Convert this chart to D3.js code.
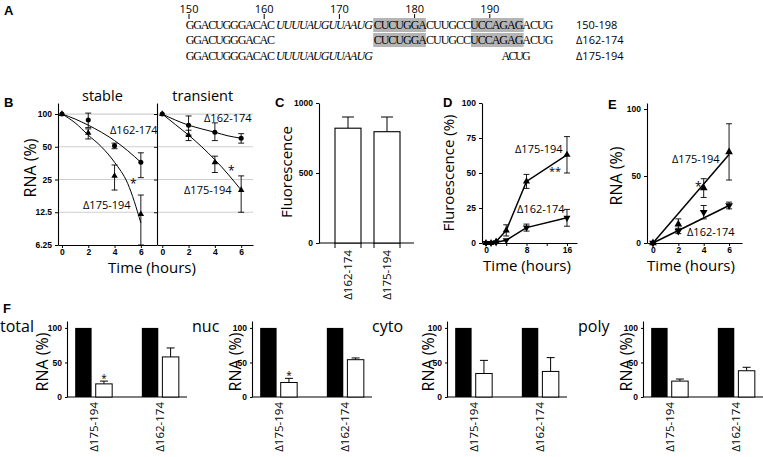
<!DOCTYPE html>
<html>
<head>
<meta charset="utf-8">
<script src="https://cdn.jsdelivr.net/npm/d3@7"></script>
<style>
body { margin: 0; background: #fff; }
svg { font-family: "Open Sans", "Noto Sans", sans-serif; }
.tick text { font-weight: 700; font-size: 8.5px; }
</style>
</head>
<body>
<div id="chart-container"></div>
<script>
// ---------- data ----------
// A: sequence
const seqFirst = 150;
const seqFull = "GGACUGGGACACUUUUAUGUUAAUGCUCUGGACUUGCCUCCAGAGACUG";
const rulerTicks = [150, 160, 170, 180, 190];
const rowLabels = ["150-198", "\u0394162-174", "\u0394175-194"];
const rowDeleted = [null, [162, 174], [175, 194]];
const italicRange = [162, 174];
const boxRanges = [[175, 181], [188, 194]];

// B: RNA decay (log scale)
const timeB = [0, 2, 4, 6];
const timeFit = [0, 1, 2, 3, 4, 5, 6];
const stable162 = [100, 88, 51, 36];
const stable162Hi = [100, 102, 54, 44];
const stable162Lo = [100, 75, 48, 26];
const stable175 = [100, 67, 27, 12];
const stable175Hi = [100, 73, 34, 18];
const stable175Lo = [100, 59, 20, 6.2];
const stable162Fit = [100, 90, 79, 68, 57, 46, 36];
const stable175Fit = [100, 83, 64, 50, 36, 23, 10];
const trans162 = [100, 79, 68, 60];
const trans162Hi = [100, 96, 83, 66];
const trans162Lo = [100, 64, 57, 54];
const trans175 = [100, 64, 36, 20];
const trans175Hi = [100, 71, 41, 27];
const trans175Lo = [100, 57, 29, 12.5];
const trans162Fit = [100, 88, 79, 73, 68, 63, 60];
const trans175Fit = [100, 80, 64, 50, 38, 28, 20];
const logTicks = [100, 50, 25, 12.5, 6.25];

// C: fluorescence
const catsC = ["\u0394162-174", "\u0394175-194"];
const fluorC = [820, 795];
const fluorCErr = [80, 105];

// D: fluorescence time course
const timeD = [0, 1, 2, 4, 8, 16];
const fluor175 = [0, 0, 1, 9, 44, 63];
const fluor175Err = [0, 0, 0.5, 4, 5, 13];
const fluor162 = [0, 0, 0.5, 2, 11, 18];
const fluor162Err = [0, 0, 0.5, 1, 2.5, 6];

// E: RNA time course
const timeE = [0, 2, 4, 6];
const rna175 = [0, 14, 41, 68];
const rna175Err = [0, 4, 7, 21];
const rna162 = [0, 9, 23, 28];
const rna162Err = [0, 2, 5, 2.5];
const timeEFit = [0, 6];
const rna175Fit = [0, 66];
const rna162Fit = [0, 28];

// F: fractions
const fractions = ["total", "nuc", "cyto", "poly"];
const catsF = ["\u0394175-194", "\u0394162-174"];
const controlF = [100, 100];
const mutTotal = [19, 58], mutTotalErr = [4, 13];
const mutNuc = [21, 54], mutNucErr = [6, 2.5];
const mutCyto = [34, 37], mutCytoErr = [19, 20];
const mutPoly = [23, 38], mutPolyErr = [3, 5];
const starsF = [[true, false], [true, false], [false, false], [false, false]];

// ---------- helpers ----------
const W = 763, H = 457;
const svg = d3.select("#chart-container").append("svg")
    .attr("width", W).attr("height", H);

function panelLetter(txt, x, y) {
    svg.append("text").attr("x", x).attr("y", y)
        .style("font-family", "'Liberation Sans', Arial, sans-serif")
        .style("font-weight", "bold").style("font-size", "13px").text(txt);
}

function vLabel(txt, x, y, size) {
    svg.append("text")
        .attr("transform", "translate(" + x + "," + y + ") rotate(-90)")
        .style("text-anchor", "middle").style("font-size", (size || 15) + "px")
        .text(txt);
}

function label(txt, x, y, size, anchor) {
    return svg.append("text").attr("x", x).attr("y", y)
        .style("font-size", (size || 11) + "px")
        .style("text-anchor", anchor || "start").text(txt);
}

function errBar(g, x, y1, y2, cap) {
    g.append("line").attr("x1", x).attr("x2", x).attr("y1", y1).attr("y2", y2)
        .attr("stroke", "#000").attr("stroke-width", 0.9);
    [y1, y2].forEach(y => g.append("line")
        .attr("x1", x - cap).attr("x2", x + cap).attr("y1", y).attr("y2", y)
        .attr("stroke", "#000").attr("stroke-width", 0.9));
}

function marker(g, type, x, y, size) {
    let sym = type === "circle" ? d3.symbolCircle : d3.symbolTriangle;
    g.append("path")
        .attr("d", d3.symbol().type(sym).size(size || 22)())
        .attr("transform", "translate(" + x + "," + y + ")" + (type === "down" ? " rotate(180)" : ""))
        .attr("fill", "#000");
}

function styleAxis(g) {
    g.selectAll(".domain").attr("stroke", "#000").attr("stroke-width", 1.1);
    g.selectAll(".tick line").attr("stroke", "#000");
    return g;
}

// ---------- panel A ----------
(function () {
    panelLetter("A", 4, 15);
    let x = d3.scaleLinear().domain([150, 190]).range([189, 489.8]);
    let half = (x(151) - x(150)) / 2;
    let rowY = [29, 44, 60];
    let tailShift = [0, 0, -3];
    let g = svg.append("g");
    rulerTicks.forEach(t => {
        g.append("text").attr("x", x(t)).attr("y", 13)
            .style("text-anchor", "middle").style("font-size", "11px").text(t);
        g.append("line").attr("x1", x(t)).attr("x2", x(t)).attr("y1", 14).attr("y2", 19)
            .attr("stroke", "#000").attr("stroke-width", 1);
    });
    // grey boxes on rows 1 and 2
    [0, 1].forEach(r => {
        boxRanges.forEach(b => {
            g.append("rect").attr("x", x(b[0]) - half).attr("y", rowY[r] - 11)
                .attr("width", x(b[1]) - x(b[0]) + 2 * half).attr("height", 14)
                .attr("fill", "#b4b4b4");
        });
    });
    rowLabels.forEach((lab, r) => {
        let del = rowDeleted[r];
        // split the row into runs of contiguous, same-style nucleotides
        let runs = [];
        for (let i = 0; i < seqFull.length; i++) {
            let pos = seqFirst + i;
            if (del && pos >= del[0] && pos <= del[1]) continue;
            let it = pos >= italicRange[0] && pos <= italicRange[1];
            let last = runs[runs.length - 1];
            if (last && last.it === it && last.end === pos - 1) {
                last.end = pos; last.txt += seqFull[i];
            } else {
                runs.push({start: pos, end: pos, it: it, txt: seqFull[i]});
            }
        }
        runs.forEach(run => {
            let shift = (del && run.start > del[1]) ? tailShift[r] : 0;
            let x0 = x(run.start + shift) - half;
            let x1 = x(run.end + shift) + half;
            g.append("text").attr("x", x0 + 0.4).attr("y", rowY[r])
                .attr("textLength", x1 - x0 - 0.8).attr("lengthAdjust", "spacing")
                .style("font-family", "'Liberation Serif', 'DejaVu Serif', serif")
                .style("font-size", "12px")
                .style("font-style", run.it ? "italic" : "normal")
                .text(run.txt);
        });
        g.append("text").attr("x", 576).attr("y", rowY[r])
            .style("font-size", "11px").text(lab);
    });
})();

// ---------- panel B ----------
(function () {
    panelLetter("B", 4, 107);
    let y = d3.scaleLog().base(2).domain([6.25, 126.3]).range([245, 103]);
    let subs = [
        {title: "stable", range: [58, 154], domain: [-0.3, 7], s162: stable162, h162: stable162Hi, l162: stable162Lo,
         s175: stable175, h175: stable175Hi, l175: stable175Lo, f162: stable162Fit, f175: stable175Fit, labels: true},
        {title: "transient", range: [157, 253], domain: [-0.4, 6.9], s162: trans162, h162: trans162Hi, l162: trans162Lo,
         s175: trans175, h175: trans175Hi, l175: trans175Lo, f162: trans162Fit, f175: trans175Fit, labels: false}
    ];
    subs.forEach(s => {
        let x = d3.scaleLinear().domain(s.domain).range(s.range);
        let g = svg.append("g");
        // gridlines
        logTicks.slice(0, 4).forEach(v => {
            g.append("line").attr("x1", s.range[0]).attr("x2", s.range[1])
                .attr("y1", y(v)).attr("y2", y(v)).attr("stroke", "#cfcfcf").attr("stroke-width", 1.2);
        });
        let ax = g.append("g").attr("transform", "translate(" + s.range[0] + ",0)")
            .call(d3.axisLeft(y).tickValues(logTicks).tickSize(3).tickSizeOuter(0)
                .tickFormat(s.labels ? (d => d) : ""));
        styleAxis(ax);
        let bx = g.append("g").attr("transform", "translate(0," + y.range()[0] + ")")
            .call(d3.axisBottom(x).tickValues(timeB).tickSize(3).tickSizeOuter(0));
        styleAxis(bx);
        bx.selectAll(".tick text").attr("y", 4);
        g.append("text").attr("x", (x(0) + x(6)) / 2 + 1).attr("y", 101)
            .style("text-anchor", "middle").style("font-size", "14.5px").text(s.title);
        // fit curves
        let line = d3.line().x((d, i) => x(timeFit[i])).y(d => y(d)).curve(d3.curveMonotoneX);
        [s.f162, s.f175].forEach(f => g.append("path").attr("d", line(f))
            .attr("fill", "none").attr("stroke", "#000").attr("stroke-width", 1));
        timeB.forEach((t, i) => {
            if (i > 0) {
                errBar(g, x(t), y(Math.max(s.l162[i], 6.25)), y(s.h162[i]), 3);
                errBar(g, x(t), y(Math.max(s.l175[i], 6.25)), y(s.h175[i]), 3);
            }
            marker(g, "circle", x(t), y(s.s162[i]), 20);
            marker(g, "up", x(t), y(s.s175[i]), 18);
        });
    });
    label("\u0394162-174", 110, 134, 11);
    label("\u0394175-194", 83, 209, 11);
    label("*", 130, 188, 12);
    label("\u0394162-174", 204, 122, 11);
    label("\u0394175-194", 184, 194, 11);
    label("*", 228, 175, 12);
    vLabel("RNA (%)", 36, 168, 16);
    label("Time (hours)", 152, 273, 15, "middle");
})();

// ---------- panel C ----------
(function () {
    panelLetter("C", 275, 107);
    let y = d3.scaleLinear().domain([0, 1000]).range([243, 103]);
    let x = d3.scaleBand().domain(catsC).range([322, 413]).paddingInner(1 / 3).paddingOuter(1 / 3);
    let g = svg.append("g");
    styleAxis(g.append("g").attr("transform", "translate(319,0)")
        .call(d3.axisLeft(y).tickValues([0, 500, 1000]).tickSize(3).tickSizeOuter(0)
            .tickFormat(d3.format("d"))));
    g.append("line").attr("x1", 319).attr("x2", 414).attr("y1", 243).attr("y2", 243)
        .attr("stroke", "#000").attr("stroke-width", 1.1);
    catsC.forEach((c, i) => {
        let x0 = x(c), bw = x.bandwidth();
        let top = y(fluorC[i] + fluorCErr[i]);
        g.append("line").attr("x1", x0 + bw / 2).attr("x2", x0 + bw / 2)
            .attr("y1", y(fluorC[i])).attr("y2", top).attr("stroke", "#000");
        g.append("line").attr("x1", x0 + bw / 2 - 6).attr("x2", x0 + bw / 2 + 6)
            .attr("y1", top).attr("y2", top).attr("stroke", "#000");
        g.append("rect").attr("x", x0).attr("y", y(fluorC[i]))
            .attr("width", bw).attr("height", y(0) - y(fluorC[i]))
            .attr("fill", "#fff").attr("stroke", "#000").attr("stroke-width", 1.1);
        [x0, x0 + bw].forEach(xx => g.append("line").attr("x1", xx).attr("x2", xx)
            .attr("y1", 243).attr("y2", 248).attr("stroke", "#000"));
        g.append("text")
            .attr("transform", "translate(" + (x0 + bw / 2 + 4) + ",250) rotate(-90)")
            .style("text-anchor", "end").style("font-size", "11.5px").text(c);
    });
    vLabel("Fluorescence", 292, 172, 15);
})();

// ---------- panel D ----------
(function () {
    panelLetter("D", 443, 107);
    let y = d3.scaleLinear().domain([0, 100]).range([243, 103]);
    let x = d3.scaleLinear().domain([-0.79, 17.98]).range([482, 577]);
    let g = svg.append("g");
    styleAxis(g.append("g").attr("transform", "translate(482,0)")
        .call(d3.axisLeft(y).tickValues([0, 25, 50, 75, 100]).tickSize(3).tickSizeOuter(0)));
    let bx = styleAxis(g.append("g").attr("transform", "translate(0,243)")
        .call(d3.axisBottom(x).tickValues([0, 4, 8, 12, 16]).tickSize(3).tickSizeOuter(0)
            .tickFormat(d => (d % 8 === 0 ? d : ""))));
    bx.selectAll(".tick text").attr("y", 4);
    let line = d3.line().x((d, i) => x(timeD[i])).y(d => y(d));
    [fluor175, fluor162].forEach(s => g.append("path").attr("d", line(s))
        .attr("fill", "none").attr("stroke", "#000").attr("stroke-width", 1.5));
    timeD.forEach((t, i) => {
        if (fluor175Err[i] > 1) errBar(g, x(t), y(fluor175[i] - fluor175Err[i]), y(fluor175[i] + fluor175Err[i]), 3);
        if (fluor162Err[i] > 1) errBar(g, x(t), y(fluor162[i] - fluor162Err[i]), y(fluor162[i] + fluor162Err[i]), 3);
        marker(g, "up", x(t), y(fluor175[i]), 22);
        marker(g, "down", x(t), y(fluor162[i]), 22);
    });
    label("\u0394175-194", 515, 153, 11);
    label("**", 549, 175, 11);
    label("\u0394162-174", 517, 213, 11);
    vLabel("Fluroescence (%)", 454, 173, 15);
    label("Time (hours)", 527, 271, 15, "middle");
})();

// ---------- panel E ----------
(function () {
    panelLetter("E", 608, 109);
    let y = d3.scaleLinear().domain([0, 104.5]).range([243, 103]);
    let x = d3.scaleLinear().domain([-0.47, 7.02]).range([647, 742]);
    let g = svg.append("g");
    styleAxis(g.append("g").attr("transform", "translate(647,0)")
        .call(d3.axisLeft(y).tickValues([0, 50, 100]).tickSize(3).tickSizeOuter(0)));
    let bx = styleAxis(g.append("g").attr("transform", "translate(0,243)")
        .call(d3.axisBottom(x).tickValues(timeE).tickSize(3).tickSizeOuter(0)));
    bx.selectAll(".tick text").attr("y", 4);
    let line = d3.line().x((d, i) => x(timeEFit[i])).y(d => y(d));
    [rna175Fit, rna162Fit].forEach(s => g.append("path").attr("d", line(s))
        .attr("fill", "none").attr("stroke", "#000").attr("stroke-width", 1.5));
    timeE.forEach((t, i) => {
        if (rna175Err[i] > 0) errBar(g, x(t), y(rna175[i] - rna175Err[i]), y(rna175[i] + rna175Err[i]), 3);
        if (rna162Err[i] > 0) errBar(g, x(t), y(rna162[i] - rna162Err[i]), y(rna162[i] + rna162Err[i]), 3);
        marker(g, "up", x(t), y(rna175[i]), 26);
        marker(g, "down", x(t), y(rna162[i]), 26);
    });
    label("\u0394175-194", 672, 163, 11);
    label("*", 695, 191, 12);
    label("\u0394162-174", 687, 236, 11);
    vLabel("RNA (%)", 622, 176, 16);
    label("Time (hours)", 691, 271, 15, "middle");
})();

// ---------- panel F ----------
(function () {
    panelLetter("F", 3, 313);
    let y = d3.scaleLinear().domain([0, 110]).range([397, 321]);
    let axisX = [67, 252, 447, 643];
    let titleX = [0, 192, 372, 578];
    let labelOff = [19, 11, 13, 11];
    let mut = [mutTotal, mutNuc, mutCyto, mutPoly];
    let mutErr = [mutTotalErr, mutNucErr, mutCytoErr, mutPolyErr];
    fractions.forEach((f, k) => {
        let g = svg.append("g").attr("transform", "translate(" + axisX[k] + ",0)");
        let xg = d3.scalePoint().domain(catsF).range([0, 120]).padding(0.4);
        let xi = d3.scaleBand().domain(["ctrl", "mut"]).range([-18.5, 18.5]).paddingInner(0.2);
        styleAxis(g.append("g").call(d3.axisLeft(y).tickValues([0, 50, 100]).tickSize(2).tickSizeOuter(0)));
        g.append("line").attr("x1", 0).attr("x2", 120).attr("y1", y(0)).attr("y2", y(0))
            .attr("stroke", "#000").attr("stroke-width", 1.1);
        catsF.forEach((c, i) => {
            let cx = xg(c);
            g.append("rect").attr("x", cx + xi("ctrl")).attr("y", y(controlF[i]))
                .attr("width", xi.bandwidth()).attr("height", y(0) - y(controlF[i])).attr("fill", "#000");
            let v = mut[k][i], e = mut[k][i] + mutErr[k][i];
            let mx = cx + xi("mut") + xi.bandwidth() / 2;
            g.append("line").attr("x1", mx).attr("x2", mx).attr("y1", y(v)).attr("y2", y(e)).attr("stroke", "#000");
            g.append("line").attr("x1", mx - 4).attr("x2", mx + 4).attr("y1", y(e)).attr("y2", y(e)).attr("stroke", "#000");
            g.append("rect").attr("x", cx + xi("mut")).attr("y", y(v))
                .attr("width", xi.bandwidth()).attr("height", y(0) - y(v))
                .attr("fill", "#fff").attr("stroke", "#000").attr("stroke-width", 1);
            if (starsF[k][i]) g.append("text").attr("x", mx).attr("y", y(e) + 1)
                .style("text-anchor", "middle").style("font-size", "10px").text("*");
            g.append("text")
                .attr("transform", "translate(" + (cx + 4) + "," + (y(0) + 5) + ") rotate(-90)")
                .style("text-anchor", "end").style("font-size", "11.5px").text(c);
        });
        vLabel("RNA (%)", axisX[k] - labelOff[k], 362, 16);
        label(f, titleX[k], 332, 16);
    });
})();
</script>
</body>
</html>
